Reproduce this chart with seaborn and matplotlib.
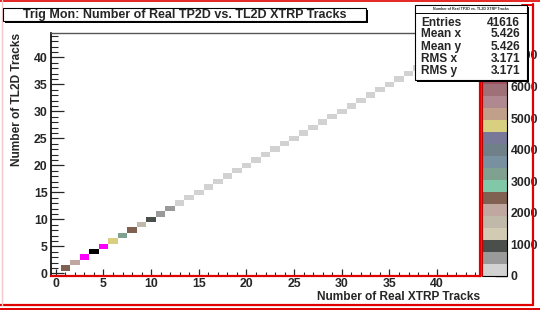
import numpy as np
import pandas as pd
import seaborn as sns
import matplotlib
matplotlib.use("Agg")
import matplotlib.pyplot as plt
from matplotlib.colors import ListedColormap
from matplotlib.patches import Rectangle
from matplotlib.lines import Line2D
from matplotlib.ticker import MultipleLocator

# ---- data ----
n_xtrp = list(range(1, 43))            # diagonal cells: x == y
n_tl2d = list(range(1, 43))
counts = [2450, 2100, 7000, 7500, 6950, 4750, 3200, 2500, 1700, 950,
          600, 420, 250, 180, 140, 110, 90, 75, 62, 52,
          45, 40, 35, 30, 27, 24, 21, 19, 17, 15,
          13, 12, 11, 10, 9, 8, 7, 6, 5, 5,
          4, 3]
x_ticks = [0, 5, 10, 15, 20, 25, 30, 35, 40]
z_ticks = [0, 1000, 2000, 3000, 4000, 5000, 6000, 7000]
palette_colors = ["#d2d2d2", "#9a9a9a", "#4b4f4b", "#d2cab2", "#c0b8a8",
                  "#c0a8a0", "#806050", "#80c8a8", "#80a090", "#7890a0",
                  "#708088", "#787898", "#d8d080", "#c0a088", "#b08890",
                  "#a07078", "#a05060", "#c04848", "#ff00ff", "#000000"]
stats_names = ["Entries", "Mean x", "Mean y", "RMS x", "RMS y"]
stats_values = ["41616", "5.426", "5.426", "3.171", "3.171"]
title = "Trig Mon: Number of Real TP2D vs. TL2D XTRP Tracks"
stats_title = "Number of Real TP2D vs. TL2D XTRP Tracks"

df = pd.DataFrame({"x": n_xtrp, "y": n_tl2d, "w": counts})

sns.set_style("ticks")
plt.rcParams["font.family"] = ["Liberation Sans", "DejaVu Sans"]
plt.rcParams["font.weight"] = "bold"

W, H = 540, 310
fig = plt.figure(figsize=(W / 100, H / 100), dpi=100)


def fx(px):
    return px / W


def fy(py):
    return 1 - py / H


ax = fig.add_axes([fx(51), fy(276), fx(480) - fx(51), fy(33) - fy(276)])
cax = fig.add_axes([fx(482), fy(276), fx(507) - fx(482), fy(36) - fy(276)])

edges = np.arange(-0.5, 45.0, 1.0)
cmap = ListedColormap(palette_colors)
sns.histplot(data=df, x="x", y="y", weights="w", bins=[edges, edges],
             cmap=cmap, vmin=0, vmax=7600, cbar=True, cbar_ax=cax, ax=ax)

ax.set_xlim(-0.5, 44.5)
ax.set_ylim(-0.5, 44.5)
ax.set_xticks(x_ticks)
ax.set_yticks(x_ticks)
ax.xaxis.set_minor_locator(MultipleLocator(1))
ax.yaxis.set_minor_locator(MultipleLocator(1))
ax.tick_params(axis="x", which="major", direction="in", length=5, width=0.9,
               labelsize=8.8, pad=1.5)
ax.tick_params(axis="x", which="minor", direction="in", length=2.6, width=0.8)
ax.tick_params(axis="y", which="major", direction="in", length=9.5, width=0.9,
               labelsize=8.8, pad=2.5)
ax.tick_params(axis="y", which="minor", direction="in", length=5, width=0.8)
for lab in ax.get_xticklabels() + ax.get_yticklabels():
    lab.set_fontweight("bold")
ax.set_xlabel("Number of Real XTRP Tracks", loc="right", fontsize=8.6,
              fontweight="bold", labelpad=1)
ax.set_ylabel("Number of TL2D Tracks", loc="top", fontsize=8.6,
              fontweight="bold", labelpad=8)
ax.grid(False)
for s in ["left", "top", "bottom", "right"]:
    ax.spines[s].set_visible(True)
ax.spines["left"].set_color("black")
ax.spines["left"].set_linewidth(1.2)
ax.spines["top"].set_color("#555555")
ax.spines["top"].set_linewidth(1.0)
ax.spines["bottom"].set_color("#e00000")
ax.spines["bottom"].set_linewidth(1.6)
ax.spines["right"].set_color("#e00000")
ax.spines["right"].set_linewidth(1.6)

# colorbar styling
cax.set_ylim(0, 7600)
cax.set_yticks(z_ticks)
cax.tick_params(axis="y", direction="in", length=9, width=1.0, labelsize=8.8,
                pad=2.5, right=True, left=False)
for lab in cax.get_yticklabels():
    lab.set_fontweight("bold")
cax.minorticks_off()
for sp in cax.spines.values():
    sp.set_color("black")
    sp.set_linewidth(0.8)
fig.add_artist(Line2D([fx(482), fx(482)], [fy(276), fy(34)], color="#e00000",
                      lw=1.2, transform=fig.transFigure))

# pad borders (red)
red = "#e00000"
fig.add_artist(Line2D([0, 1], [fy(0.8), fy(0.8)], color=red, lw=1.2,
                      transform=fig.transFigure))
fig.add_artist(Line2D([fx(532.5), fx(532.5)], [fy(4), fy(305)], color=red,
                      lw=1.6, transform=fig.transFigure))
fig.add_artist(Line2D([0, fx(533)], [fy(305), fy(305)], color=red, lw=1.6,
                      transform=fig.transFigure))
fig.add_artist(Line2D([0, 1], [fy(308.5), fy(308.5)], color=red, lw=1.4,
                      transform=fig.transFigure))
fig.add_artist(Line2D([fx(1.5), fx(1.5)], [fy(0), fy(305)], color="#f2c8c8",
                      lw=1.0, transform=fig.transFigure))
fig.add_artist(Line2D([fx(522), fx(533)], [fy(4.5), fy(4.5)], color=red,
                      lw=1.4, transform=fig.transFigure))

# title box with shadow
tx0, ty0, tx1, ty1 = 3, 8, 366, 21
fig.add_artist(Rectangle((fx(tx0 + 2), fy(ty1 + 2)), fx(tx1) - fx(tx0),
                         fy(ty0) - fy(ty1), transform=fig.transFigure,
                         facecolor="black", edgecolor="black", lw=0, zorder=5))
fig.add_artist(Rectangle((fx(tx0), fy(ty1)), fx(tx1) - fx(tx0),
                         fy(ty0) - fy(ty1), transform=fig.transFigure,
                         facecolor="white", edgecolor="black", lw=0.8, zorder=6))
fig.text(fx((tx0 + tx1) / 2), fy((ty0 + ty1) / 2 + 0.5), title, ha="center",
         va="center", fontsize=9, fontweight="bold", zorder=7)

# stats box with shadow
sx0, sy0, sx1, sy1 = 415, 5, 527, 80
fig.add_artist(Rectangle((fx(sx0 + 2), fy(sy1 + 2)), fx(sx1) - fx(sx0),
                         fy(sy0) - fy(sy1), transform=fig.transFigure,
                         facecolor="black", edgecolor="black", lw=0, zorder=8))
fig.add_artist(Rectangle((fx(sx0), fy(sy1)), fx(sx1) - fx(sx0),
                         fy(sy0) - fy(sy1), transform=fig.transFigure,
                         facecolor="white", edgecolor="black", lw=0.8, zorder=9))
fig.add_artist(Line2D([fx(sx0), fx(sx1)], [fy(13), fy(13)], color="black",
                      lw=0.7, transform=fig.transFigure, zorder=10))
fig.text(fx((sx0 + sx1) / 2), fy(9), stats_title, ha="center", va="center",
         fontsize=2.6, fontweight="bold", zorder=10)
row_y = [22.5, 34, 47, 59, 71]
for name, val, yy in zip(stats_names, stats_values, row_y):
    fig.text(fx(421), fy(yy), name, ha="left", va="center", fontsize=8.6,
             fontweight="bold", zorder=10)
    fig.text(fx(520), fy(yy), val, ha="right", va="center", fontsize=8.6,
             fontweight="bold", zorder=10)

fig.savefig("out.png", dpi=100)
